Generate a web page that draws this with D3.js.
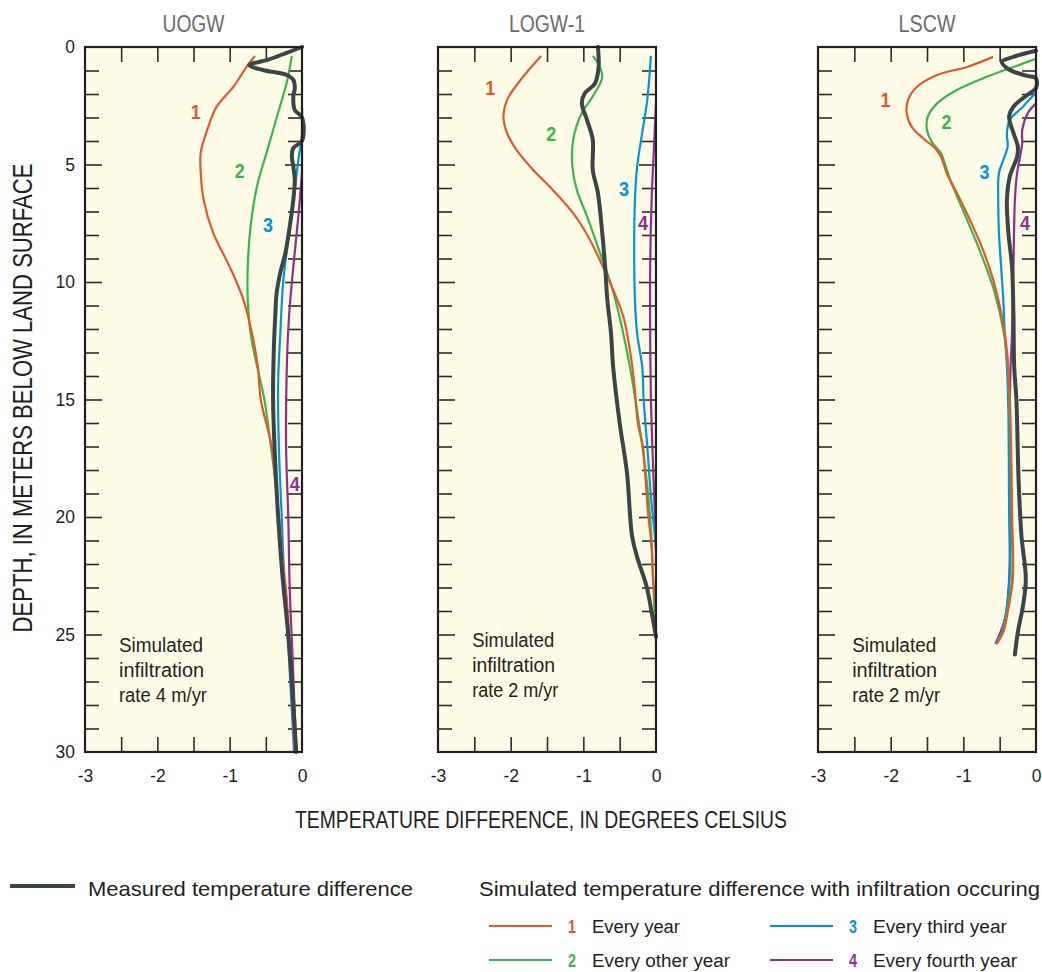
<!DOCTYPE html>
<html><head><meta charset="utf-8">
<script src="https://cdn.jsdelivr.net/npm/d3@7"></script>
<style>
body{margin:0;background:#fff;}
svg text{font-family:"Liberation Sans",Arial,sans-serif;}
</style></head><body>
<svg id="chart" width="1042" height="972"></svg>
<script>
// ---------------- DATA ----------------
const wells = ["UOGW", "LOGW-1", "LSCW"];
const infiltrationRates = ["rate 4 m/yr", "rate 2 m/yr", "rate 2 m/yr"];
const xTickValues = [-3, -2.5, -2, -1.5, -1, -0.5, 0];
const xTickLabels = ["-3", "", "-2", "", "-1", "", "0"];
const yTickValues = d3.range(0, 31, 1);
const seriesNumbers = ["1", "2", "3", "4"];
const seriesLabels = ["Every year", "Every other year", "Every third year", "Every fourth year"];
const measuredLabel = "Measured temperature difference";
const simulatedLabel = "Simulated temperature difference with infiltration occuring";

// each point: [depth (m), temperature difference (°C)]
const uogwMeasured = [[0,0],[0.55,-0.48],[0.77,-0.73],[0.98,-0.54],[1.19,-0.21],[1.4,-0.12],[1.75,-0.1],[2.1,-0.12],[2.68,-0.1],[3.0,0],[4.0,0],[4.3,-0.12],[4.67,-0.14],[5.1,-0.12],[5.65,-0.1],[6.5,-0.12],[7.65,-0.17],[8.77,-0.23],[9.6,-0.3],[10.45,-0.35],[11.47,-0.37],[12.9,-0.39],[15,-0.4],[17,-0.38],[20,-0.33],[22.5,-0.27],[25,-0.19],[27.5,-0.13],[30,-0.08]];
const uogwSim1 = [[0.38,-0.65],[0.77,-0.75],[1.7,-0.95],[2.54,-1.18],[3.53,-1.31],[4.5,-1.4],[5.36,-1.4],[6.5,-1.36],[7.9,-1.23],[9.35,-1.0],[10.75,-0.81],[12.2,-0.69],[13.6,-0.61],[15,-0.57],[17,-0.42],[18.5,-0.37],[20,-0.32],[22,-0.26],[23.5,-0.21],[25.6,-0.17],[30,-0.1]];
const uogwSim2 = [[0.38,-0.14],[1.5,-0.21],[3.0,-0.35],[4.4,-0.48],[5.9,-0.62],[7.6,-0.71],[9.35,-0.75],[10.75,-0.75],[12.2,-0.71],[13.6,-0.62],[15,-0.52],[17,-0.43],[18.4,-0.37],[20,-0.33],[22,-0.27],[25,-0.19],[27.5,-0.13],[30,-0.09]];
const uogwSim3 = [[2.54,0],[3.7,0],[4.8,-0.05],[6.5,-0.12],[8.2,-0.19],[10,-0.26],[12.2,-0.3],[14.3,-0.33],[17,-0.32],[20,-0.28],[23,-0.24],[26,-0.18],[30,-0.11]];
const uogwSim4 = [[5.36,0],[7.2,-0.05],[9.35,-0.12],[11.5,-0.18],[13.6,-0.21],[17,-0.22],[20,-0.19],[23,-0.17],[26,-0.13],[30,-0.08]];

const logwMeasured = [[0,-0.8],[0.85,-0.79],[1.55,-0.84],[1.97,-0.98],[2.4,-1.02],[3.1,-0.95],[3.95,-0.87],[5.23,-0.87],[6.2,-0.8],[7.9,-0.74],[9.35,-0.7],[10.75,-0.67],[12.15,-0.62],[13.6,-0.59],[16,-0.5],[18.1,-0.4],[20.8,-0.33],[21.7,-0.26],[22.95,-0.13],[24.05,-0.06],[25.1,0]];
const logwSim1 = [[0.38,-1.58],[1.27,-1.83],[2.25,-2.05],[2.97,-2.1],[3.66,-2.05],[4.38,-1.92],[5.23,-1.69],[6.08,-1.42],[7.07,-1.14],[8.2,-0.91],[9.35,-0.73],[10.33,-0.59],[11.47,-0.45],[12.88,-0.36],[14.3,-0.3],[16,-0.25],[17,-0.18],[18.1,-0.15],[19.8,-0.11],[21.25,-0.06],[22.65,-0.04],[24,0]];
const logwSim2 = [[0.38,-0.87],[0.68,-0.8],[1.27,-0.74],[2.1,-0.87],[2.8,-1.02],[3.95,-1.14],[5.1,-1.15],[6.08,-1.09],[7.2,-0.95],[8.77,-0.77],[10,-0.63],[11.5,-0.5],[13.6,-0.36],[16.3,-0.22],[18.4,-0.13],[20.5,-0.07],[22.65,-0.04],[25.3,0]];
const logwSim3 = [[0.38,-0.07],[2.25,-0.12],[3.66,-0.19],[5.1,-0.26],[6.5,-0.29],[8.63,-0.3],[10.75,-0.29],[12.2,-0.26],[13.6,-0.19],[15,-0.17],[17,-0.12],[19.1,-0.07],[21.25,0]];
const logwSim4 = [[2.4,0],[4.38,-0.03],[6.5,-0.06],[9.35,-0.08],[12.2,-0.08],[15,-0.07],[17,-0.05],[19.5,-0.02],[21.5,0]];

const lscwMeasured = [[0.16,0],[0.42,-0.31],[0.63,-0.47],[0.98,-0.36],[1.23,-0.12],[1.33,0],[1.75,0],[2.04,-0.12],[2.54,-0.31],[2.97,-0.37],[3.66,-0.31],[4.24,-0.25],[4.67,-0.26],[5.5,-0.36],[6.5,-0.4],[7.9,-0.38],[9.35,-0.33],[11.47,-0.31],[13.6,-0.3],[15,-0.27],[18.4,-0.24],[20.8,-0.2],[22.65,-0.14],[23.8,-0.18],[24.9,-0.25],[25.85,-0.29]];
const lscwSim1 = [[0.42,-0.59],[0.85,-0.95],[1.19,-1.36],[1.7,-1.64],[2.25,-1.76],[2.8,-1.78],[3.4,-1.71],[3.87,-1.56],[4.3,-1.39],[4.72,-1.3],[5.36,-1.23],[6.2,-1.09],[7.35,-0.91],[8.63,-0.73],[9.9,-0.59],[11.47,-0.47],[12.9,-0.4],[15,-0.36],[17.5,-0.34],[19.8,-0.33],[22.65,-0.32],[24.05,-0.39],[24.9,-0.45],[25.4,-0.54]];
const lscwSim2 = [[0.51,-0.01],[0.85,-0.31],[1.27,-0.68],[1.83,-1.09],[2.4,-1.36],[2.97,-1.49],[3.53,-1.5],[4.1,-1.42],[4.5,-1.31],[5.0,-1.25],[5.65,-1.18],[7.2,-0.97],[8.77,-0.76],[10.33,-0.58],[12.2,-0.44],[13.6,-0.39],[15,-0.37],[17.5,-0.35],[19.8,-0.34],[22.65,-0.33],[24.05,-0.4],[24.9,-0.46],[25.4,-0.55]];
const lscwSim3 = [[1.97,-0.01],[2.54,-0.18],[3.1,-0.36],[3.66,-0.4],[4.24,-0.39],[4.8,-0.45],[5.36,-0.51],[6.5,-0.52],[7.9,-0.51],[9.35,-0.48],[10.75,-0.45],[12.2,-0.43],[13.6,-0.4],[15.6,-0.38],[19.8,-0.37],[22.35,-0.36],[24.05,-0.41],[24.9,-0.47],[25.4,-0.55]];
const lscwSim4 = [[2.4,0],[2.8,-0.11],[3.53,-0.19],[4.1,-0.19],[4.67,-0.22],[5.36,-0.26],[6.5,-0.29],[9.35,-0.31],[12.2,-0.33],[13.6,-0.35],[15,-0.36],[17.5,-0.36],[20,-0.36],[22.65,-0.37],[24.35,-0.43],[25.4,-0.56]];

// series label anchor positions, in data units [depth, temp]
const uogwLabelPos = [[2.75,-1.47],[5.25,-0.86],[7.55,-0.47],[18.6,-0.1]];
const logwLabelPos = [[1.75,-2.28],[3.7,-1.44],[6.05,-0.44],[7.5,-0.18]];
const lscwLabelPos = [[2.25,-2.07],[3.2,-1.23],[5.3,-0.71],[7.5,-0.15]];

// ---------------- STYLE ----------------
const simColors = ["#E0592A", "#3AB54A", "#0095DA", "#8E2E91"];
const measuredColor = "#3B4547";
const frameColor = "#231F20";
const textColor = "#231F20";
const bgColor = "#FEFBE7";

const panelsX = [[85, 302], [438, 656], [818, 1036]];
const plotTop = 47, plotBottom = 752;
const titleWidths = [62, 76, 57];
const annWidths = [84, 85, 88];

const panelData = [
  {measured: uogwMeasured, sims: [uogwSim1, uogwSim2, uogwSim3, uogwSim4], labels: uogwLabelPos},
  {measured: logwMeasured, sims: [logwSim1, logwSim2, logwSim3, logwSim4], labels: logwLabelPos},
  {measured: lscwMeasured, sims: [lscwSim1, lscwSim2, lscwSim3, lscwSim4], labels: lscwLabelPos}
];

const svg = d3.select("#chart");
const y = d3.scaleLinear().domain([0, 30]).range([plotTop, plotBottom]);

// text helper: fits to a target width if given
function txt(parent, x, yy, s, size, opts = {}) {
  const t = parent.append("text").attr("x", x).attr("y", yy).attr("font-size", size)
    .attr("fill", opts.fill || textColor).attr("text-anchor", opts.anchor || "start").text(s);
  if (opts.weight) t.attr("font-weight", opts.weight);
  if (opts.width) t.attr("textLength", opts.width).attr("lengthAdjust", "spacingAndGlyphs");
  if (opts.transform) t.attr("transform", opts.transform);
  return t;
}

panelData.forEach((pd, i) => {
  const [x0, x1] = panelsX[i];
  const x = d3.scaleLinear().domain([-3, 0]).range([x0, x1]);
  const g = svg.append("g");

  g.append("rect").attr("x", x0).attr("y", plotTop).attr("width", x1 - x0).attr("height", plotBottom - plotTop)
    .attr("fill", bgColor);

  const top = g.append("g").attr("transform", `translate(0,${plotTop})`)
    .call(d3.axisTop(x).tickValues(xTickValues).tickSize(-15).tickFormat(""));
  const bot = g.append("g").attr("transform", `translate(0,${plotBottom})`)
    .call(d3.axisBottom(x).tickValues(xTickValues).tickSize(-15).tickPadding(18)
      .tickFormat((d, k) => xTickLabels[k]));
  const left = g.append("g").attr("transform", `translate(${x0},0)`)
    .call(d3.axisLeft(y).tickValues(yTickValues).tickSize(-14).tickPadding(10)
      .tickFormat(d => (i === 0 && d % 5 === 0) ? String(d) : ""));
  const right = g.append("g").attr("transform", `translate(${x1},0)`)
    .call(d3.axisRight(y).tickValues(yTickValues).tickSize(-14).tickFormat(""));

  left.selectAll(".tick line").attr("x2", d => d % 5 === 0 ? 17 : 14);
  right.selectAll(".tick line").attr("x2", d => d % 5 === 0 ? -17 : -14);

  [top, bot, left, right].forEach(a => {
    a.select(".domain").remove();
    a.selectAll(".tick line").attr("stroke", "#2b2b2b").attr("stroke-width", 1.6);
    a.selectAll("text").attr("fill", textColor).attr("font-size", 17.5)
      .attr("font-family", '"Liberation Sans",Arial,sans-serif');
  });
  [top, bot].forEach(a => a.selectAll(".tick").filter(d => d === -3 || d === 0).select("line").remove());
  [left, right].forEach(a => a.selectAll(".tick").filter(d => d === 0 || d === 30).select("line").remove());

  const line = d3.line().x(d => x(d[1])).y(d => y(d[0])).curve(d3.curveCatmullRom.alpha(0.5));
  for (let k = 3; k >= 0; k--) {
    g.append("path").datum(pd.sims[k]).attr("d", line)
      .attr("fill", "none").attr("stroke", simColors[k]).attr("stroke-width", 2.2)
      .attr("stroke-linejoin", "round");
  }
  g.append("path").datum(pd.measured).attr("d", line)
    .attr("fill", "none").attr("stroke", measuredColor).attr("stroke-width", 4)
    .attr("stroke-linejoin", "round").attr("stroke-linecap", "round");

  g.append("rect").attr("x", x0).attr("y", plotTop).attr("width", x1 - x0).attr("height", plotBottom - plotTop)
    .attr("fill", "none").attr("stroke", frameColor).attr("stroke-width", 2.2);

  pd.labels.forEach((p, k) => {
    txt(g, x(p[1]), y(p[0]), seriesNumbers[k], 20, {anchor: "middle", weight: "bold", fill: simColors[k], width: 10})
      .attr("dy", "0.36em");
  });

  txt(g, (x0 + x1) / 2, 32, wells[i], 23, {anchor: "middle", fill: "#6B6B6B", width: titleWidths[i]});

  const ann = ["Simulated", "infiltration", infiltrationRates[i]];
  const annX = x(-2.53);
  const annBase = i === 1 ? 647 : 652;
  ann.forEach((t, k) => txt(g, annX, annBase + k * 25, t, 20, {width: annWidths[k] - (i === 1 ? 2 : 0)}));
});

// axis titles
txt(svg, 0, 0, "DEPTH, IN METERS BELOW LAND SURFACE", 27,
  {anchor: "middle", width: 469, transform: "translate(32,398) rotate(-90)"});
txt(svg, 541, 828, "TEMPERATURE DIFFERENCE, IN DEGREES CELSIUS", 23, {anchor: "middle", width: 492});

// legend
const leg = svg.append("g");
leg.append("line").attr("x1", 10).attr("x2", 75).attr("y1", 886).attr("y2", 886)
  .attr("stroke", measuredColor).attr("stroke-width", 4);
txt(leg, 88, 896, measuredLabel, 21, {width: 325});
txt(leg, 479, 896, simulatedLabel, 21, {width: 561});

const legCols = [489, 770];
const legRows = [926, 960];
const legLabelWidths = [88, 138, 134, 144];
seriesNumbers.forEach((n, k) => {
  const cx = legCols[Math.floor(k / 2)];
  const cy = legRows[k % 2];
  leg.append("line").attr("x1", cx).attr("x2", cx + 63).attr("y1", cy).attr("y2", cy)
    .attr("stroke", simColors[k]).attr("stroke-width", 2.2);
  txt(leg, cx + 83, cy + 7, n, 18, {anchor: "middle", weight: "bold", fill: simColors[k], width: 8});
  txt(leg, cx + 103, cy + 7, seriesLabels[k], 18, {width: legLabelWidths[k]});
});
</script>
</body></html>
